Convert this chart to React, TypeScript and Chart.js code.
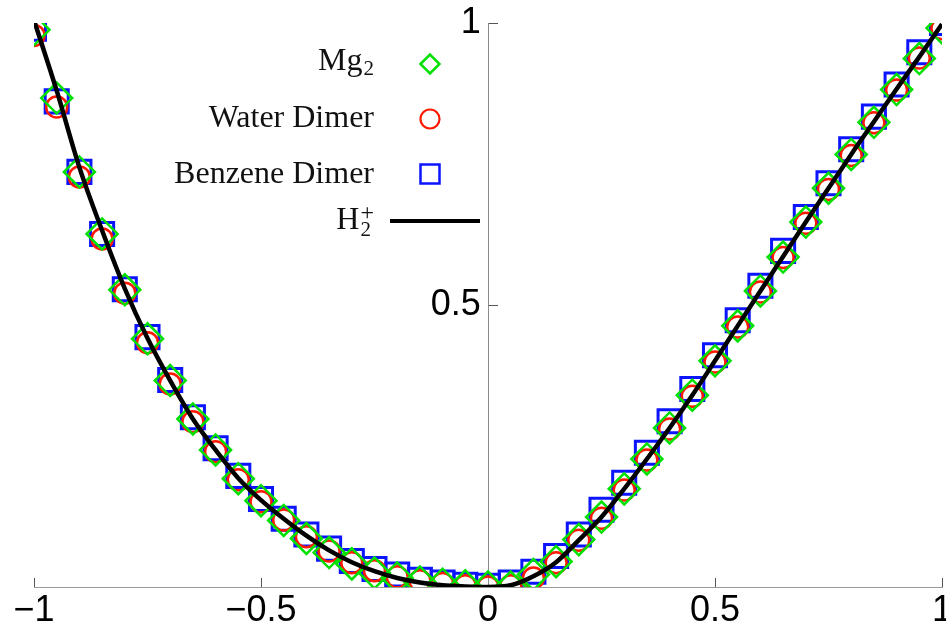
import React, { useEffect, useRef } from 'react';
import { Chart, registerables } from 'chart.js';

Chart.register(...registerables);

// ---- data ----
const xValues = [
  -1, -0.95, -0.9, -0.85, -0.8, -0.75, -0.7, -0.65, -0.6, -0.55, -0.5,
  -0.45, -0.4, -0.35, -0.3, -0.25, -0.2, -0.15, -0.1, -0.05, 0,
  0.05, 0.1, 0.15, 0.2, 0.25, 0.3, 0.35, 0.4, 0.45, 0.5,
  0.55, 0.6, 0.65, 0.7, 0.75, 0.8, 0.85, 0.9, 0.95, 1,
];

const mg2Values = [
  0.988, 0.867, 0.736, 0.626, 0.527, 0.44, 0.366, 0.298, 0.243, 0.192, 0.153,
  0.118, 0.086, 0.061, 0.041, 0.025, 0.016, 0.009, 0.005, 0.002, 0.0,
  0.0, 0.022, 0.045, 0.084, 0.124, 0.174, 0.227, 0.282, 0.34, 0.401,
  0.463, 0.525, 0.585, 0.647, 0.707, 0.767, 0.824, 0.882, 0.937, 0.991,
];

const waterValues = [
  0.978, 0.851, 0.727, 0.617, 0.521, 0.433, 0.36, 0.293, 0.24, 0.19, 0.151,
  0.119, 0.089, 0.064, 0.043, 0.029, 0.018, 0.011, 0.006, 0.002, 0.0,
  0.002, 0.016, 0.043, 0.083, 0.122, 0.172, 0.225, 0.28, 0.338, 0.399,
  0.461, 0.523, 0.584, 0.645, 0.705, 0.765, 0.823, 0.881, 0.938, 0.99,
];

const benzeneValues = [
  0.99, 0.861, 0.736, 0.626, 0.528, 0.443, 0.367, 0.301, 0.246, 0.197, 0.156,
  0.121, 0.093, 0.068, 0.046, 0.032, 0.022, 0.013, 0.008, 0.004, 0.002,
  0.008, 0.027, 0.055, 0.093, 0.137, 0.185, 0.238, 0.294, 0.351, 0.411,
  0.473, 0.534, 0.596, 0.656, 0.716, 0.776, 0.834, 0.891, 0.948, 1.0,
];

const h2Values = [
  1.005, 0.88, 0.744, 0.632, 0.529, 0.441, 0.366, 0.298, 0.243, 0.193, 0.154,
  0.121, 0.091, 0.065, 0.044, 0.028, 0.016, 0.008, 0.003, 0.001, 0.0,
  0.003, 0.019, 0.044, 0.083, 0.124, 0.174, 0.227, 0.282, 0.34, 0.401,
  0.463, 0.525, 0.586, 0.647, 0.707, 0.767, 0.825, 0.883, 0.94, 0.998,
];

const xTicks = [-1, -0.5, 0, 0.5, 1];
const yTicks = [0.5, 1];

const seriesNames = ['Mg2', 'Water Dimer', 'Benzene Dimer', 'H2+'];

// ---- styles ----
const GREEN = 'rgb(0,225,0)';
const RED = 'rgb(255,25,0)';
const BLUE = 'rgb(10,20,255)';
const SERIF = '"Liberation Serif", "Times New Roman", serif';
const SANS = '"Liberation Sans", Arial, sans-serif';

const fmt = (v: number) => (v < 0 ? '\u2212' + String(-v) : String(v));

const pts = (ys: number[]) => xValues.map((x, i) => ({ x, y: ys[i] }));

// legend entries: text parts + marker
type Part = { t: string; kind: 'base' | 'sub' | 'subsup'; sup?: string };
const legendEntries: { parts: Part[]; baseline: number; markerY: number; marker: string; color: string }[] = [
  { parts: [{ t: 'Mg', kind: 'base' }, { t: '2', kind: 'sub' }], baseline: 70, markerY: 64, marker: 'diamond', color: GREEN },
  { parts: [{ t: 'Water Dimer', kind: 'base' }], baseline: 127, markerY: 119, marker: 'circle', color: RED },
  { parts: [{ t: 'Benzene Dimer', kind: 'base' }], baseline: 183, markerY: 174, marker: 'square', color: BLUE },
  { parts: [{ t: 'H', kind: 'base' }, { t: '2', kind: 'subsup', sup: '+' }], baseline: 229, markerY: 221, marker: 'line', color: '#000' },
];

const legendPlugin = {
  id: 'customLegend',
  afterDraw(chart: any) {
    const ctx: CanvasRenderingContext2D = chart.ctx;
    ctx.save();
    const textRight = 374;
    const markerX = 430;
    const baseFont = `32px ${SERIF}`;
    const smallFont = `21px ${SERIF}`;
    const supFont = `24px ${SERIF}`;
    ctx.fillStyle = '#111';
    ctx.textBaseline = 'alphabetic';
    ctx.textAlign = 'left';
    for (const e of legendEntries) {
      let total = 0;
      const widths: number[] = [];
      for (const p of e.parts) {
        ctx.font = p.kind === 'base' ? baseFont : smallFont;
        let w = ctx.measureText(p.t).width;
        if (p.kind === 'subsup' && p.sup) {
          ctx.font = supFont;
          w = Math.max(w, ctx.measureText(p.sup).width);
        }
        widths.push(w + (p.kind === 'base' ? 0 : 1));
        total += widths[widths.length - 1];
      }
      let x = textRight - total;
      e.parts.forEach((p, i) => {
        ctx.fillStyle = '#111';
        if (p.kind === 'base') {
          ctx.font = baseFont;
          ctx.fillText(p.t, x, e.baseline);
        } else if (p.kind === 'sub') {
          ctx.font = smallFont;
          ctx.fillText(p.t, x + 1, e.baseline + 5);
        } else {
          ctx.font = smallFont;
          ctx.fillText(p.t, x + 1, e.baseline + 7);
          if (p.sup) {
            ctx.font = supFont;
            ctx.fillText(p.sup, x + 1, e.baseline - 9);
          }
        }
        x += widths[i];
      });
      // marker
      ctx.strokeStyle = e.color;
      ctx.beginPath();
      const y = e.markerY;
      if (e.marker === 'diamond') {
        ctx.lineWidth = 2.5;
        const r = 9.5;
        ctx.moveTo(markerX - r, y);
        ctx.lineTo(markerX, y - r);
        ctx.lineTo(markerX + r, y);
        ctx.lineTo(markerX, y + r);
        ctx.closePath();
        ctx.stroke();
      } else if (e.marker === 'circle') {
        ctx.lineWidth = 2.2;
        ctx.arc(markerX, y, 9.5, 0, Math.PI * 2);
        ctx.stroke();
      } else if (e.marker === 'square') {
        ctx.lineWidth = 2.5;
        ctx.rect(markerX - 9.5, y - 9.5, 19, 19);
        ctx.stroke();
      } else {
        ctx.lineWidth = 4;
        ctx.moveTo(390, y);
        ctx.lineTo(480, y);
        ctx.stroke();
      }
    }
    ctx.restore();
  },
};

export default function App() {
  const ref = useRef<HTMLCanvasElement | null>(null);

  useEffect(() => {
    if (!ref.current) return;
    const chart = new Chart(ref.current, {
      type: 'scatter',
      data: {
        datasets: [
          {
            label: seriesNames[3],
            data: pts(h2Values),
            showLine: true,
            borderColor: '#000',
            borderWidth: 4.5,
            pointRadius: 0,
            cubicInterpolationMode: 'monotone',
            fill: false,
            clip: 0,
          } as any,
          {
            label: seriesNames[0],
            data: pts(mg2Values),
            showLine: false,
            pointStyle: 'rectRot',
            pointRadius: 15.5,
            pointBorderWidth: 2.5,
            pointBorderColor: GREEN,
            pointBackgroundColor: 'rgba(0,0,0,0)',
            clip: 0,
          } as any,
          {
            label: seriesNames[1],
            data: pts(waterValues),
            showLine: false,
            pointStyle: 'circle',
            pointRadius: 10.5,
            pointBorderWidth: 2.5,
            pointBorderColor: RED,
            pointBackgroundColor: 'rgba(0,0,0,0)',
            clip: 0,
          } as any,
          {
            label: seriesNames[2],
            data: pts(benzeneValues),
            showLine: false,
            pointStyle: 'rect',
            pointRadius: 16.3,
            pointBorderWidth: 3,
            pointBorderColor: BLUE,
            pointBackgroundColor: 'rgba(0,0,0,0)',
            clip: 0,
          } as any,
        ],
      },
      options: {
        responsive: false,
        maintainAspectRatio: false,
        animation: false,
        devicePixelRatio: 1,
        events: [],
        layout: { autoPadding: false, padding: { left: 34, right: 4, top: 23, bottom: 47 } },
        plugins: {
          legend: { display: false },
          tooltip: { enabled: false },
          title: { display: false },
        },
        scales: {
          x: {
            type: 'linear',
            min: -1,
            max: 1,
            position: { y: 0 } as any,
            afterBuildTicks: (s: any) => {
              s.ticks = xTicks.map((v) => ({ value: v }));
            },
            afterFit: (s: any) => {
              s.paddingLeft = 0;
              s.paddingRight = 0;
              s.paddingTop = 0;
              s.paddingBottom = 0;
            },
            grid: {
              drawOnChartArea: false,
              drawTicks: true,
              tickLength: -10,
              tickColor: '#555',
              tickWidth: 1,
            },
            border: { display: true, color: '#9a9a9a', width: 1 },
            ticks: {
              font: { family: SANS, size: 36 },
              color: '#000',
              padding: 12,
              maxRotation: 0,
              autoSkip: false,
              callback: (v: any) => fmt(Number(v)),
            },
          },
          y: {
            type: 'linear',
            min: 0,
            max: 1,
            position: { x: 0 } as any,
            afterBuildTicks: (s: any) => {
              s.ticks = yTicks.map((v) => ({ value: v }));
            },
            afterFit: (s: any) => {
              s.paddingLeft = 0;
              s.paddingRight = 0;
              s.paddingTop = 0;
              s.paddingBottom = 0;
            },
            grid: {
              drawOnChartArea: false,
              drawTicks: true,
              tickLength: -10,
              tickColor: '#555',
              tickWidth: 1,
            },
            border: { display: true, color: '#8a8a8a', width: 1 },
            ticks: {
              font: { family: SANS, size: 36 },
              color: '#000',
              padding: 6,
              autoSkip: false,
              // thin space keeps the right-aligned label off the axis line
              callback: (v: any) => fmt(Number(v)) + '\u2009',
            },
          },
        },
      },
      plugins: [legendPlugin],
    });
    return () => chart.destroy();
  }, []);

  return (
    <div style={{ position: 'absolute', left: 0, top: 0, width: 946, height: 634, background: '#fff' }}>
      <canvas ref={ref} width={946} height={634} style={{ display: 'block' }} />
    </div>
  );
}
